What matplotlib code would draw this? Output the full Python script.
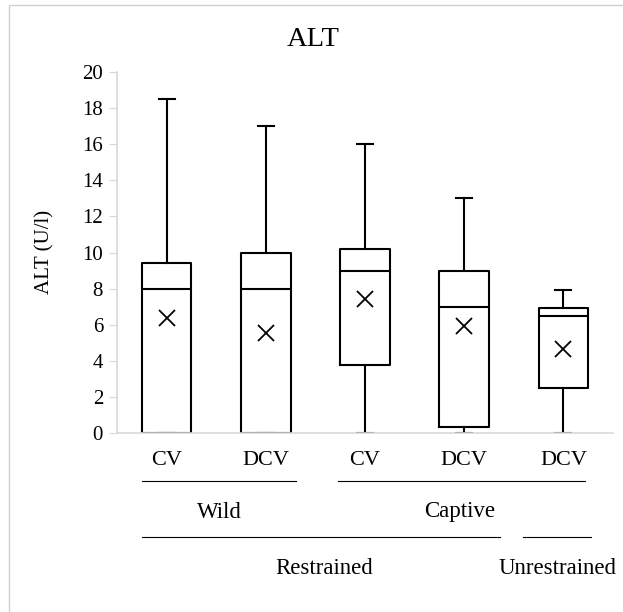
import matplotlib
matplotlib.use('Agg')
import matplotlib.pyplot as plt
from matplotlib.lines import Line2D
from matplotlib.patches import Rectangle

plt.rcParams['font.family'] = ['Liberation Serif', 'DejaVu Serif']

# ALT values (U/l) per group
labels = ['CV', 'DCV', 'CV', 'DCV', 'DCV']
whis_low = [0.0, 0.0, 0.0, 0.0, 0.0]
q1 = [0.0, 0.0, 3.75, 0.35, 2.5]
median = [8.0, 8.0, 9.0, 7.0, 6.5]
q3 = [9.4, 10.0, 10.2, 9.0, 6.9]
whis_high = [18.5, 17.0, 16.0, 13.0, 7.9]
mean = [6.35, 5.55, 7.4, 5.95, 4.65]

# group captions: (text, x-centre px, line start px, line end px)
origin_groups = [('Wild', 219, 142, 296), ('Captive', 460, 338, 585)]
handling_groups = [('Restrained', 324, 142, 500), ('Unrestrained', 558, 523, 591)]

W, H = 623, 612
fig = plt.figure(figsize=(W / 100, H / 100), dpi=100)


def fx(px):
    return px / W


def fy(py):
    return 1 - py / H


# outer frame of the chart area
fig.patches.append(Rectangle((fx(9), fy(700)), fx(700), 695 / H, transform=fig.transFigure,
                             fill=False, edgecolor='#d0d0d0', linewidth=1))

ax = fig.add_axes([fx(117), fy(433), fx(613) - fx(117), fy(72) - fy(433)])

stats = []
for i in range(len(labels)):
    stats.append({'label': labels[i], 'whislo': whis_low[i], 'q1': q1[i], 'med': median[i],
                  'q3': q3[i], 'whishi': whis_high[i], 'mean': mean[i], 'fliers': []})

line_kw = dict(color='black', linewidth=1.5)
ax.bxp(stats, positions=range(1, len(labels) + 1), widths=0.5, capwidths=0.16,
       showmeans=True, showfliers=False,
       boxprops=line_kw, medianprops=line_kw, whiskerprops=line_kw, capprops=line_kw,
       meanprops=dict(marker='x', markeredgecolor='black', markersize=11, markeredgewidth=1.3),
       zorder=2)

ax.set_xlim(0.5, len(labels) + 0.5)
ax.set_ylim(0, 20)
ax.set_yticks(range(0, 21, 2))
ax.tick_params(axis='y', length=6, color='#d9d9d9', labelsize=15, pad=4)
ax.tick_params(axis='x', length=0, labelsize=16, pad=13)
ax.set_xticks(range(1, len(labels) + 1))
ax.set_xticklabels(labels)
for side in ['top', 'right']:
    ax.spines[side].set_visible(False)
for side in ['left', 'bottom']:
    ax.spines[side].set_color('#d9d9d9')
    ax.spines[side].set_linewidth(1.2)
    ax.spines[side].set_zorder(3)

fig.text(fx(313), fy(39), 'ALT', ha='center', va='center', fontsize=20.5)
fig.text(fx(45), fy(252), 'ALT (U/l)', ha='center', va='center', rotation=90, fontsize=15)

for text, cx, x0, x1 in origin_groups:
    fig.lines.append(Line2D([fx(x0), fx(x1)], [fy(481), fy(481)], transform=fig.transFigure,
                            color='black', linewidth=0.8))
    fig.text(fx(cx), fy(512), text, ha='center', va='center', fontsize=16.5)

for text, cx, x0, x1 in handling_groups:
    fig.lines.append(Line2D([fx(x0), fx(x1)], [fy(537), fy(537)], transform=fig.transFigure,
                            color='black', linewidth=0.8))
    fig.text(fx(cx), fy(568), text, ha='center', va='center', fontsize=16.5)

fig.savefig('out.png', dpi=100, facecolor='white')
